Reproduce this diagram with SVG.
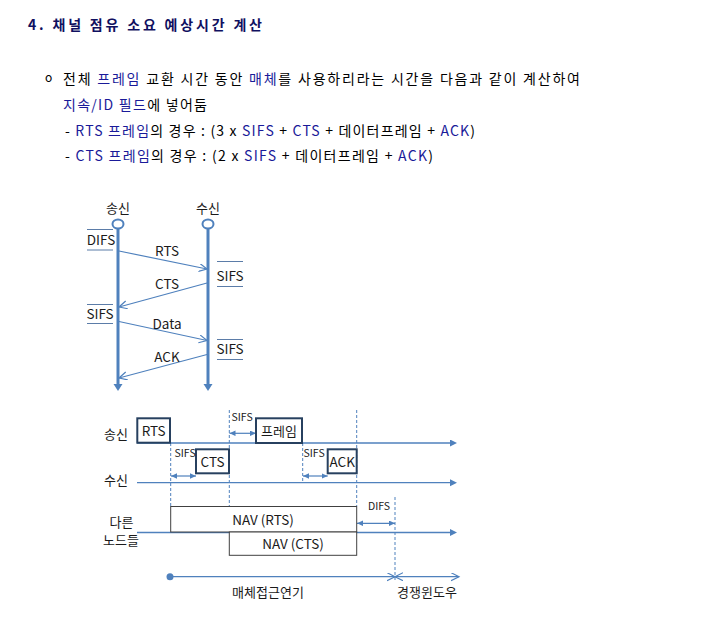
<svg xmlns="http://www.w3.org/2000/svg" width="702" height="618" viewBox="0 0 702 618">
<defs>
<style>
.hdr{font-family:"Noto Sans CJK KR","Liberation Sans",sans-serif;font-size:14px;fill:#000}
.title{font-weight:bold;fill:#101060}
.b{fill:#1a1a99}
.lbl{font-family:"Noto Sans CJK KR","Liberation Sans",sans-serif;font-size:13.5px;fill:#1a1a1a}
.ko{font-size:13px}
.sm{font-size:10.5px}
.mid{text-anchor:middle}
.ln{stroke:#4f81bd;fill:none}
.thick{stroke-width:3}
.msg{stroke-width:1.2}
.tl{stroke-width:1.3}
.dash{stroke:#4f81bd;stroke-width:1;stroke-dasharray:3 2;fill:none}
.bar{stroke:#5b7ca8;stroke-width:1}
.box{fill:#fff;stroke:#27405f;stroke-width:2}
.nav{fill:#fff;stroke:#404040;stroke-width:1}
</style>
<marker id="vhead" markerUnits="userSpaceOnUse" markerWidth="10" markerHeight="10" refX="0" refY="4.5" orient="auto">
<path d="M0,0 L7,4.5 L0,9 z" fill="#4f81bd"/>
</marker>
<marker id="open" markerUnits="userSpaceOnUse" markerWidth="10" markerHeight="10" refX="8" refY="4" orient="auto-start-reverse">
<path d="M0,0 L8,4 L0,8" fill="none" stroke="#4f81bd" stroke-width="1.2"/>
</marker>
<marker id="fill" markerUnits="userSpaceOnUse" markerWidth="10" markerHeight="10" refX="0" refY="3.5" orient="auto">
<path d="M0,0 L7,3.5 L0,7 z" fill="#4f81bd"/>
</marker>
<marker id="small" markerUnits="userSpaceOnUse" markerWidth="8" markerHeight="8" refX="6" refY="2.75" orient="auto-start-reverse">
<path d="M0,0 L6,2.75 L0,5.5 z" fill="#4f81bd"/>
</marker>
</defs>

<g id="header">
<text class="hdr title" x="28" y="29.5" textLength="234">4. 채널 점유 소요 예상시간 계산</text>
<text class="hdr" x="45" y="81.5" style="font-size:12px">o</text>
<text class="hdr" x="63" y="83.5" textLength="517">전체 <tspan class="b">프레임</tspan> 교환 시간 동안 <tspan class="b">매체</tspan>를 사용하리라는 시간을 다음과 같이 계산하여</text>
<text class="hdr" x="63" y="109.5" textLength="144"><tspan class="b">지속/ID 필드</tspan>에 넣어둠</text>
<text class="hdr" x="65" y="135.5" textLength="410">- <tspan class="b">RTS 프레임</tspan>의 경우 : (3 x <tspan class="b">SIFS</tspan> + <tspan class="b">CTS</tspan> + 데이터프레임 + <tspan class="b">ACK</tspan>)</text>
<text class="hdr" x="65" y="160.5" textLength="368">- <tspan class="b">CTS 프레임</tspan>의 경우 : (2 x <tspan class="b">SIFS</tspan> + 데이터프레임 + <tspan class="b">ACK</tspan>)</text>
</g>

<!-- top sequence diagram -->
<g id="sender">
<text class="lbl ko mid" x="118" y="213">송신</text>
<line class="ln thick" x1="118" y1="229" x2="118" y2="384" marker-end="url(#vhead)"/>
<ellipse cx="118" cy="224" rx="5.5" ry="4.5" fill="#fff" stroke="#4f81bd" stroke-width="2"/>
</g>
<g id="receiver">
<text class="lbl ko mid" x="208" y="213">수신</text>
<line class="ln thick" x1="208" y1="229" x2="208" y2="384" marker-end="url(#vhead)"/>
<ellipse cx="208" cy="224" rx="5.5" ry="4.5" fill="#fff" stroke="#4f81bd" stroke-width="2"/>
</g>
<g id="ifs-labels">
<line class="bar" x1="87" y1="229.5" x2="113" y2="229.5"/>
<line class="bar" x1="87" y1="250" x2="113" y2="250"/>
<text class="lbl mid" x="101" y="244.5">DIFS</text>
<line class="bar" x1="217" y1="261.5" x2="243" y2="261.5"/>
<line class="bar" x1="217" y1="286.5" x2="243" y2="286.5"/>
<text class="lbl mid" x="230" y="280.5">SIFS</text>
<line class="bar" x1="87" y1="304.5" x2="113" y2="304.5"/>
<line class="bar" x1="87" y1="323.5" x2="113" y2="323.5"/>
<text class="lbl mid" x="100" y="319">SIFS</text>
<line class="bar" x1="217" y1="339.5" x2="243" y2="339.5"/>
<line class="bar" x1="217" y1="359.5" x2="243" y2="359.5"/>
<text class="lbl mid" x="230" y="353.5">SIFS</text>
</g>
<g id="messages">
<line class="ln msg" x1="119" y1="251" x2="207" y2="269" marker-end="url(#open)"/>
<text class="lbl mid" x="167" y="256">RTS</text>
<line class="ln msg" x1="207" y1="283" x2="119" y2="307" marker-end="url(#open)"/>
<text class="lbl mid" x="167" y="289">CTS</text>
<line class="ln msg" x1="119" y1="321.5" x2="207" y2="340.5" marker-end="url(#open)"/>
<text class="lbl mid" x="167" y="329">Data</text>
<line class="ln msg" x1="207" y1="354.5" x2="119" y2="378" marker-end="url(#open)"/>
<text class="lbl mid" x="167" y="361.5">ACK</text>
</g>

<!-- bottom timing diagram -->
<g id="connectors">
<line class="ln tl" x1="137" y1="443" x2="450" y2="443" marker-end="url(#fill)"/>
<line class="ln tl" x1="137" y1="482.7" x2="450" y2="482.7" marker-end="url(#fill)"/>
<line class="ln tl" x1="137" y1="532.5" x2="450" y2="532.5" marker-end="url(#fill)"/>
<line class="dash" x1="170.7" y1="443" x2="170.7" y2="506"/>
<line class="dash" x1="229.3" y1="410" x2="229.3" y2="506"/>
<line class="dash" x1="302.7" y1="443" x2="302.7" y2="483"/>
<line class="dash" x1="356.7" y1="410" x2="356.7" y2="506"/>
<line class="dash" x1="395" y1="497" x2="395" y2="580"/>
<line class="ln msg" x1="229.5" y1="433.3" x2="256" y2="433.3" marker-start="url(#small)" marker-end="url(#small)"/>
<line class="ln msg" x1="171" y1="476" x2="196" y2="476" marker-start="url(#small)" marker-end="url(#small)"/>
<line class="ln msg" x1="303" y1="476" x2="327.7" y2="476" marker-start="url(#small)" marker-end="url(#small)"/>
<line class="ln msg" x1="357" y1="523.3" x2="395" y2="523.3" marker-start="url(#small)" marker-end="url(#small)"/>
<circle cx="170" cy="576.7" r="3.5" fill="#4f81bd"/>
<line class="ln msg" x1="170" y1="576.7" x2="395" y2="576.7" marker-end="url(#open)"/>
<line class="ln msg" x1="395" y1="576.7" x2="459" y2="576.7" marker-start="url(#open)" marker-end="url(#open)"/>
</g>
<g id="row-labels">
<text class="lbl ko mid" x="116" y="438.5">송신</text>
<text class="lbl ko mid" x="116" y="485">수신</text>
<text class="lbl ko mid" x="121.5" y="527">다른</text>
<text class="lbl ko mid" x="121" y="545">노드들</text>
</g>
<g id="rts-box">
<rect class="box" x="137.3" y="418.3" width="32.7" height="24.4"/>
<text class="lbl mid" x="153.7" y="435.5">RTS</text>
</g>
<g id="frame-box">
<rect class="box" x="256" y="418.3" width="46" height="24.7"/>
<text class="lbl ko mid" x="279" y="436">프레임</text>
</g>
<g id="cts-box">
<rect class="box" x="196" y="449.3" width="33" height="24"/>
<text class="lbl mid" x="212.5" y="466.5">CTS</text>
</g>
<g id="ack-box">
<rect class="box" x="327.7" y="449.3" width="29" height="24"/>
<text class="lbl mid" x="342.2" y="466.5">ACK</text>
</g>
<g id="nav-rts">
<rect class="nav" x="170.7" y="506.5" width="186" height="25.5"/>
<text class="lbl mid" x="263" y="524.5">NAV (RTS)</text>
</g>
<g id="nav-cts">
<rect class="nav" x="229.3" y="532" width="127.4" height="23.3"/>
<text class="lbl mid" x="293" y="548.5">NAV (CTS)</text>
</g>
<g id="ifs-small-labels">
<text class="lbl sm" x="231.5" y="420.5">SIFS</text>
<text class="lbl sm" x="174.5" y="456.5">SIFS</text>
<text class="lbl sm" x="303.5" y="457">SIFS</text>
<text class="lbl sm" x="368" y="509.5">DIFS</text>
</g>
<g id="bottom-labels">
<text class="lbl ko mid" x="268" y="597">매체접근연기</text>
<text class="lbl ko mid" x="427" y="597">경쟁윈도우</text>
</g>
</svg>
